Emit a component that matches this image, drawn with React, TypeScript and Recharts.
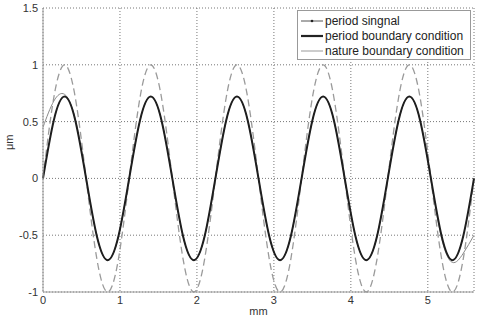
import { LineChart, Line, XAxis, YAxis, CartesianGrid } from 'recharts';

const xs = [0, 0.14, 0.28, 0.42, 0.56, 0.7, 0.84, 0.98, 1.12, 1.26, 1.4, 1.54, 1.68, 1.82, 1.96, 2.1, 2.24, 2.38, 2.52, 2.66, 2.8, 2.94, 3.08, 3.22, 3.36, 3.5, 3.64, 3.78, 3.92, 4.06, 4.2, 4.34, 4.48, 4.62, 4.76, 4.9, 5.04, 5.18, 5.32, 5.46, 5.6];

// period signal (grey dashed, amplitude 1)
const signal = [0, 0.71, 1, 0.71, 0, -0.71, -1, -0.71, 0, 0.71, 1, 0.71, 0, -0.71, -1, -0.71, 0, 0.71, 1, 0.71, 0, -0.71, -1, -0.71, 0, 0.71, 1, 0.71, 0, -0.71, -1, -0.71, 0, 0.71, 1, 0.71, 0, -0.71, -1, -0.71, 0];

// period boundary condition (thick black)
const periodBC = [0, 0.51, 0.72, 0.51, 0, -0.51, -0.72, -0.51, 0, 0.51, 0.72, 0.51, 0, -0.51, -0.72, -0.51, 0, 0.51, 0.72, 0.51, 0, -0.51, -0.72, -0.51, 0, 0.51, 0.72, 0.51, 0, -0.51, -0.72, -0.51, 0, 0.51, 0.72, 0.51, 0, -0.51, -0.72, -0.51, 0];

// nature boundary condition (thin grey, drifts at both ends)
const natureBC = [0.45, 0.68, 0.74, 0.52, 0, -0.51, -0.72, -0.51, 0, 0.51, 0.72, 0.51, 0, -0.51, -0.72, -0.51, 0, 0.51, 0.72, 0.51, 0, -0.51, -0.72, -0.51, 0, 0.51, 0.72, 0.51, 0, -0.51, -0.72, -0.51, 0, 0.51, 0.72, 0.51, 0, -0.53, -0.74, -0.66, -0.5];

const xTicks = [0, 1, 2, 3, 4, 5];
const yTicks = [-1, -0.5, 0, 0.5, 1, 1.5];
const legendNames = ['period singnal', 'period boundary condition', 'nature boundary condition'];

const data = xs.map((x, i) => ({ x, signal: signal[i], periodBC: periodBC[i], natureBC: natureBC[i] }));

const FONT = '"Liberation Sans", Arial, sans-serif';
const AXIS = '#9a9a9a';

function LegendBox() {
  const styles = [
    { w: 1, c: '#555', dot: true },
    { w: 2.2, c: '#222', dot: false },
    { w: 1, c: '#999', dot: false },
  ];
  return (
    <div style={{ position: 'absolute', left: 297, top: 10, width: 174, height: 50, border: '1px solid #999', background: '#fff', padding: '2px 0 0 2px', boxSizing: 'border-box', fontFamily: FONT, fontSize: 12, color: '#222' }}>
      {legendNames.map((name, i) => (
        <div key={name} style={{ display: 'flex', alignItems: 'center', height: 15, whiteSpace: 'nowrap' }}>
          <svg width={24} height={10} style={{ marginRight: 1, flexShrink: 0 }}>
            <line x1={1} y1={5} x2={23} y2={5} stroke={styles[i].c} strokeWidth={styles[i].w} />
            {styles[i].dot && <circle cx={12} cy={5} r={1.3} fill="#222" />}
          </svg>
          <span>{name}</span>
        </div>
      ))}
    </div>
  );
}

export default function App() {
  return (
    <div style={{ position: 'absolute', left: 0, top: 0, width: 481, height: 319, background: '#fff' }}>
      <LineChart width={481} height={319} data={data} margin={{ top: 8, right: 7, left: 0, bottom: 0 }}>
        <CartesianGrid stroke="#777" strokeDasharray="1 2" />
        <XAxis
          dataKey="x"
          type="number"
          domain={[0, 5.6]}
          ticks={xTicks}
          height={27}
          tickSize={0}
          tickMargin={4}
          stroke={AXIS}
          tick={{ fill: '#333', fontSize: 11, fontFamily: FONT }}
          label={{ value: 'mm', position: 'insideBottom', offset: 4, fill: '#333', fontSize: 11, fontFamily: FONT }}
        />
        <XAxis xAxisId="top" dataKey="x" type="number" domain={[0, 5.6]} orientation="top" height={0} tick={false} tickLine={false} stroke={AXIS} />
        <YAxis
          type="number"
          domain={[-1, 1.5]}
          ticks={yTicks}
          width={43}
          tickSize={0}
          tickMargin={5}
          stroke={AXIS}
          tick={{ fill: '#333', fontSize: 11, fontFamily: FONT }}
          label={{ value: 'μm', angle: -90, position: 'insideLeft', offset: 9, fill: '#333', fontSize: 11, fontFamily: FONT }}
        />
        <YAxis yAxisId="right" orientation="right" domain={[-1, 1.5]} width={0} tick={false} tickLine={false} stroke={AXIS} />
        <Line dataKey="signal" type="natural" stroke="#9a9a9a" strokeWidth={1.3} strokeDasharray="7 4" dot={false} isAnimationActive={false} />
        <Line dataKey="natureBC" type="natural" stroke="#8a8a8a" strokeWidth={1} dot={false} isAnimationActive={false} />
        <Line dataKey="periodBC" type="natural" stroke="#1e1e1e" strokeWidth={2} dot={false} isAnimationActive={false} />
      </LineChart>
      <LegendBox />
    </div>
  );
}
